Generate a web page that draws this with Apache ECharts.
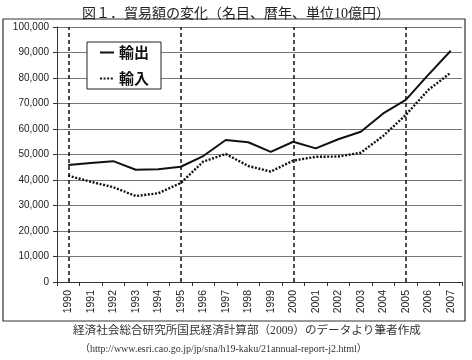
<!DOCTYPE html>
<html>
<head>
<meta charset="utf-8">
<script src="https://cdn.jsdelivr.net/npm/echarts@6/dist/echarts.min.js"></script>
<style>
  html, body { margin: 0; padding: 0; background: #fff; }
  #chart { width: 472px; height: 360px; }
</style>
</head>
<body>
<div id="chart"></div>
<script>
var years = ['1990', '1991', '1992', '1993', '1994', '1995', '1996', '1997', '1998',
    '1999', '2000', '2001', '2002', '2003', '2004', '2005', '2006', '2007']
// 単位10億円
var exportsVal = [45900, 46700, 47400, 44000, 44200, 45200, 49400, 55700, 54800,
    51000, 55000, 52400, 56000, 58900, 66100, 71400, 81200, 90700]
var importsVal = [41700, 39300, 37200, 33700, 34800, 38800, 47200, 50200, 45500,
    43300, 47600, 49100, 49200, 50700, 57300, 65500, 75300, 82100]
var dashedYears = ['1990', '1995', '2000', '2005']

var serif = '"Liberation Serif", "Noto Sans CJK JP", serif'
var cjk = '"Noto Sans CJK JP", sans-serif'

var chart = echarts.init(document.getElementById('chart'))

chart.setOption({
    animation: false,
    title: {
        text: '図１．貿易額の変化（名目、暦年、単位10億円）',
        left: 'center',
        top: 2,
        textStyle: { fontSize: 14, fontWeight: 'normal', color: '#222', fontFamily: serif }
    },
    legend: {
        orient: 'vertical',
        left: 87,
        top: 42,
        padding: [3, 12, 3, 12],
        itemWidth: 14,
        itemHeight: 15,
        itemGap: 11,
        backgroundColor: '#fff',
        borderColor: '#222',
        borderWidth: 1,
        itemStyle: { opacity: 0 },
        textStyle: { fontSize: 15, color: '#111', fontFamily: cjk, fontWeight: 'bold' },
        data: ['輸出', '輸入']
    },
    grid: { left: 57, right: 10, top: 27, bottom: 78 },
    xAxis: {
        type: 'category',
        data: years,
        boundaryGap: true,
        axisLine: { lineStyle: { color: '#333', width: 1 } },
        axisTick: { show: true, length: 4, lineStyle: { color: '#333' } },
        axisLabel: {
            rotate: 90, margin: 8, fontSize: 10.5, color: '#222',
            fontFamily: '"Liberation Sans", sans-serif', interval: 0
        },
        splitLine: { show: false }
    },
    yAxis: {
        type: 'value',
        min: 0,
        max: 100000,
        interval: 10000,
        axisLine: { show: true, lineStyle: { color: '#333', width: 1 } },
        axisTick: { show: true, length: 4, lineStyle: { color: '#333' } },
        axisLabel: {
            margin: 8, fontSize: 10, color: '#222',
            fontFamily: '"Liberation Sans", sans-serif',
            formatter: function (v) { return v.toLocaleString('en-US') }
        },
        splitLine: { lineStyle: { color: '#777', width: 1.2 } }
    },
    graphic: [
        {
            type: 'rect',
            shape: { x: 3, y: 19, width: 462, height: 302 },
            style: { fill: 'none', stroke: '#333', lineWidth: 1.2 },
            z: 0
        },
        {
            type: 'text',
            left: 73,
            top: 325,
            style: {
                text: '経済社会総合研究所国民経済計算部（2009）のデータより筆者作成',
                font: '11.6px ' + serif, fill: '#333'
            }
        },
        {
            type: 'text',
            left: 80,
            top: 344,
            style: {
                text: '（http://www.esri.cao.go.jp/jp/sna/h19-kaku/21annual-report-j2.html）',
                font: '10px ' + serif, fill: '#333'
            }
        }
    ],
    series: [
        {
            name: '輸出',
            type: 'line',
            data: exportsVal,
            symbol: 'none',
            lineStyle: { color: '#111', width: 2 },
            itemStyle: { color: '#111' },
            z: 3,
            markLine: {
                silent: true,
                symbol: 'none',
                label: { show: false },
                lineStyle: { color: '#111', width: 1.5, type: [4, 3] },
                data: dashedYears.map(function (y) { return { xAxis: y } })
            }
        },
        {
            name: '輸入',
            type: 'line',
            data: importsVal,
            symbol: 'none',
            lineStyle: { color: '#111', width: 2.4, type: [2, 1.6] },
            itemStyle: { color: '#111' },
            z: 3
        }
    ]
})
</script>
</body>
</html>
